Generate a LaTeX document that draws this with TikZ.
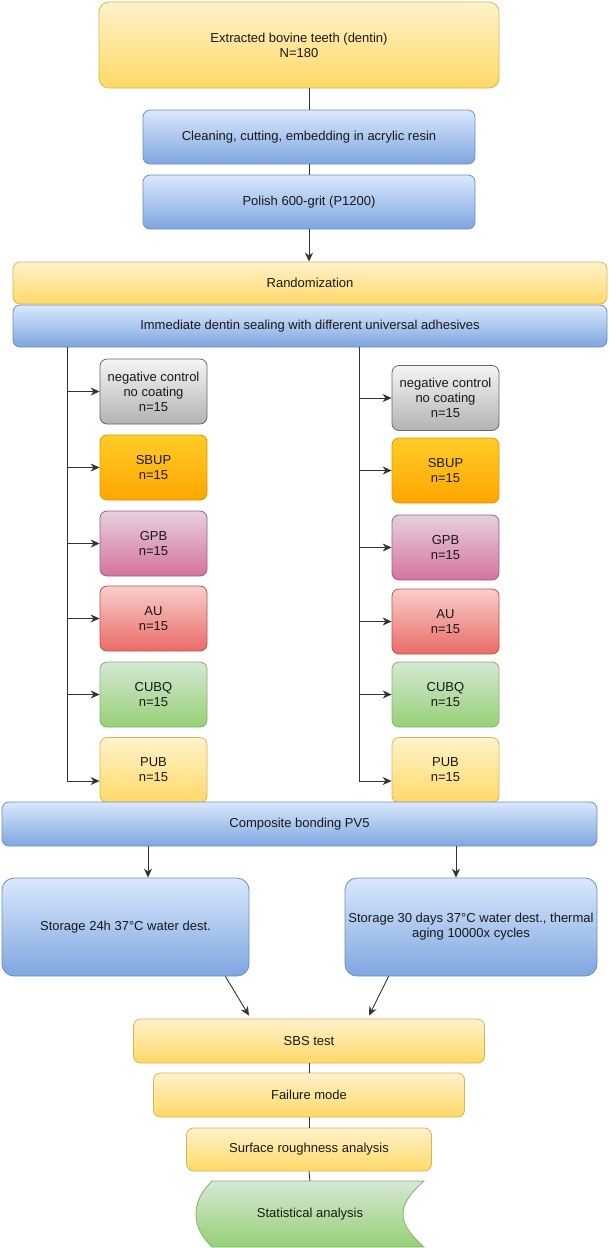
\documentclass[tikz,border=0pt]{standalone}
\usepackage{fontspec}
\setmainfont{Liberation Sans}
\usepackage{tikz}
\usetikzlibrary{arrows.meta,positioning,shapes}
\definecolor{yelTop}{HTML}{FFF2CC}
\definecolor{yelBot}{HTML}{FFD966}
\definecolor{yelLine}{HTML}{D6B656}
\definecolor{bluTop}{HTML}{DAE8FC}
\definecolor{bluBot}{HTML}{7EA6E0}
\definecolor{bluLine}{HTML}{6C8EBF}
\definecolor{gryTop}{HTML}{F5F5F5}
\definecolor{gryBot}{HTML}{B3B3B3}
\definecolor{gryLine}{HTML}{666666}
\definecolor{orgTop}{HTML}{FFCD28}
\definecolor{orgBot}{HTML}{FFA500}
\definecolor{orgLine}{HTML}{D79B00}
\definecolor{pnkTop}{HTML}{E6D0DE}
\definecolor{pnkBot}{HTML}{D5739D}
\definecolor{pnkLine}{HTML}{996185}
\definecolor{redTop}{HTML}{F8CECC}
\definecolor{redBot}{HTML}{EA6B66}
\definecolor{redLine}{HTML}{B85450}
\definecolor{grnTop}{HTML}{D5E8D4}
\definecolor{grnBot}{HTML}{97D077}
\definecolor{grnLine}{HTML}{82B366}

\begin{document}
\begin{tikzpicture}[x=1pt,y=-1pt,every node/.style={font=\fontsize{13}{15}\selectfont,text=black!90,align=center}]
  \tikzstyle{box}=[rounded corners=7pt, line width=0.8pt, inner sep=2pt]
  \tikzstyle{yellowbox}=[box, draw=yelLine, top color=yelTop, bottom color=yelBot]
  \tikzstyle{bluebox}=[box, draw=bluLine, top color=bluTop, bottom color=bluBot]
  \tikzstyle{group}=[box, minimum width=107pt, minimum height=65pt]
  \tikzstyle{greybox}=[group, draw=gryLine, top color=gryTop, bottom color=gryBot]
  \tikzstyle{orangebox}=[group, draw=orgLine, top color=orgTop, bottom color=orgBot]
  \tikzstyle{pinkbox}=[group, draw=pnkLine, top color=pnkTop, bottom color=pnkBot]
  \tikzstyle{redbox}=[group, draw=redLine, top color=redTop, bottom color=redBot]
  \tikzstyle{greenbox}=[group, draw=grnLine, top color=grnTop, bottom color=grnBot]
  \tikzstyle{pubbox}=[group, draw=yelLine, top color=yelTop, bottom color=yelBot]
  \tikzstyle{link}=[line width=0.9pt, black!80]
  \tikzstyle{arr}=[link, -{Stealth[length=9pt,width=8pt]}]

  \useasboundingbox (0,0) rectangle (609,1248);

  \node[yellowbox, rounded corners=10pt, minimum width=400pt, minimum height=86pt] (teeth) at (299,45) {Extracted bovine teeth (dentin)\\N=180};
  \node[bluebox, minimum width=332pt, minimum height=54pt] (clean) at (309,137) {Cleaning, cutting, embedding in acrylic resin};
  \node[bluebox, minimum width=332pt, minimum height=54pt] (polish) at (309,202) {Polish 600-grit (P1200)};
  \node[yellowbox, minimum width=594pt, minimum height=42pt] (rand) at (310,283) {Randomization};
  \node[bluebox, minimum width=594pt, minimum height=42pt] (seal) at (310,326) {Immediate dentin sealing with different universal adhesives};

  \node[greybox] (negL) at (153.5,391.5) {negative control\\no coating\\n=15};
  \node[orangebox] (sbupL) at (153.5,467.5) {SBUP\\n=15};
  \node[pinkbox] (gpbL) at (153.5,543.5) {GPB\\n=15};
  \node[redbox] (auL) at (153.5,618.5) {AU\\n=15};
  \node[greenbox] (cubqL) at (153.5,694.5) {CUBQ\\n=15};
  \node[pubbox] (pubL) at (153.5,770) {PUB\\n=15};

  \node[greybox] (negR) at (445.5,398) {negative control\\no coating\\n=15};
  \node[orangebox] (sbupR) at (445.5,470.5) {SBUP\\n=15};
  \node[pinkbox] (gpbR) at (445.5,547.5) {GPB\\n=15};
  \node[redbox] (auR) at (445.5,621.5) {AU\\n=15};
  \node[greenbox] (cubqR) at (445.5,694.5) {CUBQ\\n=15};
  \node[pubbox] (pubR) at (445.5,770) {PUB\\n=15};

  \node[bluebox, minimum width=595pt, minimum height=44pt] (comp) at (299.5,824) {Composite bonding PV5};
  \node[bluebox, rounded corners=12pt, minimum width=247pt, minimum height=98pt] (st24) at (125.5,927) {Storage 24h 37°C water dest.};
  \node[bluebox, rounded corners=12pt, minimum width=252pt, minimum height=98pt] (st30) at (471,927) {Storage 30 days 37°C water dest., thermal\\aging 10000x cycles};

  \node[yellowbox, minimum width=351pt, minimum height=44pt] (sbs) at (309,1041) {SBS test};
  \node[yellowbox, minimum width=311pt, minimum height=44pt] (fail) at (309,1095) {Failure mode};
  \node[yellowbox, minimum width=245pt, minimum height=43pt] (surf) at (309,1149.5) {Surface roughness analysis};
  \shade[draw=grnLine, line width=0.8pt, top color=grnTop, bottom color=grnBot]
    (212,1181) -- (424,1181) .. controls (408,1195) and (403,1205) .. (403,1214)
    .. controls (403,1223) and (408,1233) .. (424,1247) -- (212,1247)
    .. controls (200,1235) and (196,1225) .. (196,1214)
    .. controls (196,1203) and (200,1193) .. (212,1181) -- cycle;
  \node[minimum width=228pt, minimum height=66pt] (stat) at (310,1214) {Statistical analysis};

  \draw[link] (clean.north) -- (clean.north |- teeth.south);
  \draw[link] (clean.south) -- (polish.north);
  \draw[arr] (polish.south) -- (polish.south |- rand.north);

  \coordinate (busL) at (67,347);
  \coordinate (busR) at (359,347);
  \draw[arr] (busL) |- ([yshift=-11pt]pubL.west);
  \draw[arr] (busR) |- ([yshift=-11pt]pubR.west);
  \foreach \b in {negL,sbupL,gpbL,auL,cubqL}
    \draw[arr] (busL |- \b.west) -- (\b.west);
  \foreach \b in {negR,sbupR,gpbR,auR,cubqR}
    \draw[arr] (busR |- \b.west) -- (\b.west);

  \draw[arr] ([xshift=22.5pt]st24.north |- comp.south) -- ([xshift=22.5pt]st24.north);
  \draw[arr] ([xshift=-15pt]st30.north |- comp.south) -- ([xshift=-15pt]st30.north);
  \draw[arr] ([xshift=-24pt]st24.south east) -- ([xshift=-60pt,yshift=3pt]sbs.north);
  \draw[arr] ([xshift=44pt]st30.south west) -- ([xshift=60pt,yshift=3pt]sbs.north);

  \draw[link] (sbs.south) -- (fail.north);
  \draw[link] (fail.south) -- (surf.north);
  \draw[link] (surf.south) -- (stat.north);
\end{tikzpicture}
\end{document}
